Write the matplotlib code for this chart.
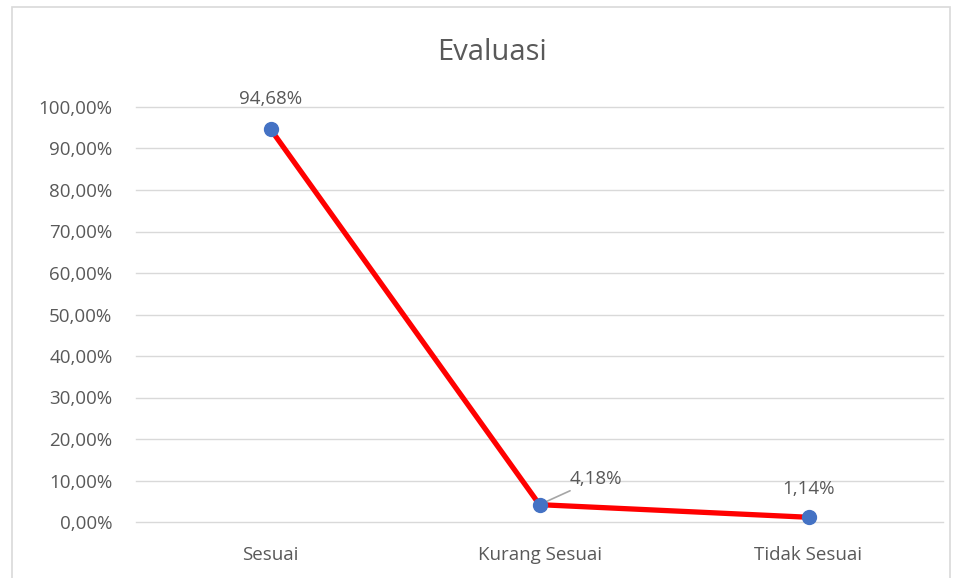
import matplotlib
matplotlib.use("Agg")
import matplotlib.pyplot as plt
from matplotlib.patches import Rectangle
from matplotlib.ticker import FuncFormatter

categories = ["Sesuai", "Kurang Sesuai", "Tidak Sesuai"]
values = [0.9468, 0.0418, 0.0114]
yticks = [0.0, 0.1, 0.2, 0.3, 0.4, 0.5, 0.6, 0.7, 0.8, 0.9, 1.0]

plt.rcParams["font.family"] = ["Open Sans", "DejaVu Sans"]
TXT = "#595959"
FS = 13.5

fig = plt.figure(figsize=(9.55, 5.78), dpi=100)
fig.patches.append(Rectangle((12 / 955, -0.01), 938 / 955, 1 - 7 / 578 + 0.01,
                             transform=fig.transFigure, fill=False,
                             edgecolor="#d9d9d9", lw=1.2))
ax = fig.add_axes([136 / 955, 56 / 578, 807 / 955, 415 / 578])

x = list(range(len(categories)))
ax.plot(x, values, color="#ff0000", lw=3.8, zorder=3, solid_capstyle="butt", clip_on=False)
ax.plot(x, values, ls="none", marker="o", ms=10, color="#4472c4", zorder=4, clip_on=False)

ax.set_xlim(-0.5, len(categories) - 0.5)
ax.set_ylim(0, 1.0)
ax.set_yticks(yticks)
ax.yaxis.set_major_formatter(FuncFormatter(
    lambda v, _: f"{v * 100:.2f}".replace(".", ",") + "%"))
ax.set_xticks(x)
ax.set_xticklabels(categories)
ax.tick_params(axis="both", length=0, colors=TXT, labelsize=FS)
ax.tick_params(axis="y", pad=17)
ax.tick_params(axis="x", pad=17)
ax.grid(axis="y", color="#d9d9d9", lw=1)
for gl in ax.get_ygridlines():
    gl.set_clip_on(False)
ax.set_axisbelow(True)
for s in ax.spines.values():
    s.set_visible(False)

def pct(v):
    return f"{v * 100:.2f}".replace(".", ",") + "%"

ax.annotate(pct(values[0]), (0, values[0]), xytext=(0, 15), textcoords="offset points",
            ha="center", va="bottom", color=TXT, fontsize=FS)
ax.annotate(pct(values[1]), (1, values[1]), xytext=(22, 12), textcoords="offset points",
            ha="left", va="bottom", color=TXT, fontsize=FS)
ax.annotate("", (1, values[1]), xytext=(22, 10), textcoords="offset points",
            arrowprops=dict(arrowstyle="-", color="#a6a6a6", lw=1.2, shrinkA=0, shrinkB=3))
ax.annotate(pct(values[2]), (2, values[2]), xytext=(0, 14), textcoords="offset points",
            ha="center", va="bottom", color=TXT, fontsize=FS)

fig.text(492 / 955, 1 - 53 / 578, "Evaluasi", ha="center", va="center",
         color=TXT, fontsize=21)

fig.savefig("out.png", dpi=100)
